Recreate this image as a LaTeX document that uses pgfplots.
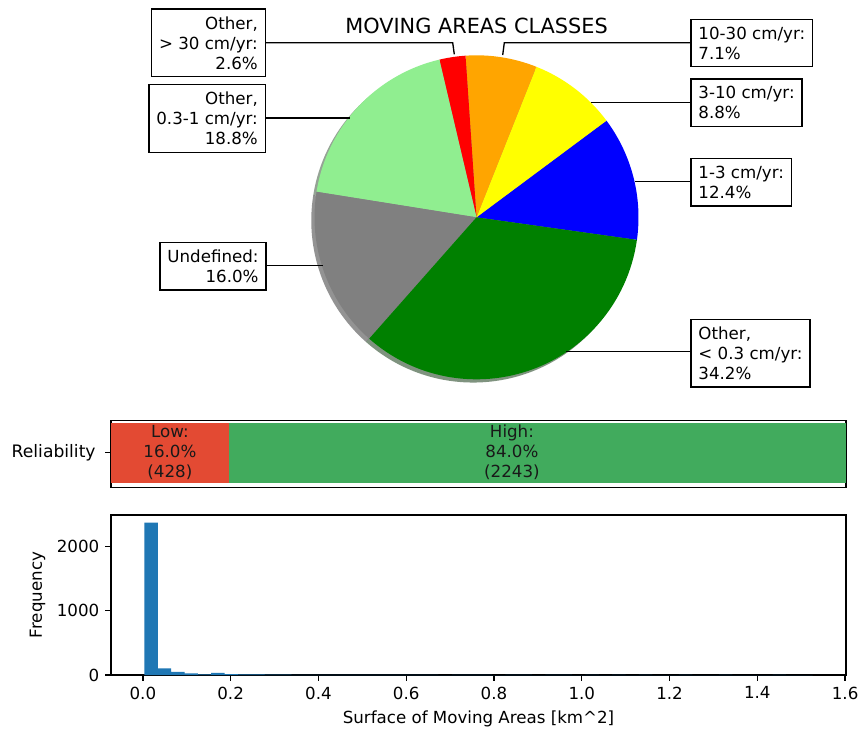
\documentclass[border=0pt]{standalone}
\usepackage{fontspec}
\setmainfont{DejaVu Sans}
\usepackage{pgfplots}
\usepackage{pgfplotstable}
\pgfplotsset{compat=1.18}
\definecolor{mpblue}{HTML}{1F77B4}
\definecolor{lowred}{HTML}{E34A33}
\definecolor{highgreen}{HTML}{41AB5D}
\definecolor{cOrange}{HTML}{FFA500}
\definecolor{cGreen}{HTML}{008000}
\definecolor{cLightgreen}{HTML}{90EE90}
\definecolor{cGray}{HTML}{808080}
\definecolor{cBlue}{HTML}{0000FF}
\definecolor{cYellow}{HTML}{FFFF00}
\definecolor{cRed}{HTML}{FF0000}

% pie shares (%), counterclockwise from start angle
\def\pBlue{12.4}\def\pYellow{8.8}\def\pOrange{7.1}\def\pRed{2.6}
\def\pLight{18.8}\def\pGray{16.0}\def\pGreen{34.2}
\def\startang{-8}
\pgfmathsetmacro\aA{\startang}
\pgfmathsetmacro\aB{\aA+3.6*\pBlue}
\pgfmathsetmacro\aC{\aB+3.6*\pYellow}
\pgfmathsetmacro\aD{\aC+3.6*\pOrange}
\pgfmathsetmacro\aE{\aD+3.6*\pRed}
\pgfmathsetmacro\aF{\aE+3.6*\pLight}
\pgfmathsetmacro\aG{\aF+3.6*\pGray}
\pgfmathsetmacro\aH{\aA+360}

% histogram: bin left edges and counts
\pgfplotstableread{
x y
0.0035 2370
0.0340 104
0.0644 48
0.0949 26
0.1253 10
0.1558 32
0.1862 15
0.2167 11
0.2471 8
0.2776 7
0.3080 5
0.3385 4
0.3689 4
0.3994 3
0.4298 2
0.4603 2
0.4907 2
0.5212 1
0.5516 2
0.5821 1
0.6125 1
0.6430 1
0.6734 0
0.7039 1
0.7343 1
0.7648 1
0.7952 0
0.8257 1
0.8561 1
0.8866 0
0.9170 1
0.9475 1
0.9779 0
1.0084 1
1.0388 0
1.0693 1
1.0997 0
1.1302 1
1.1606 0
1.1911 0
1.2215 1
1.2520 0
1.2824 0
1.3129 1
1.3433 0
1.3738 0
1.4042 0
1.4347 1
1.4651 0
1.4956 0
1.5260 1
1.5260 0
}\histdata

\newcommand\shadowslice[3]{%
  \fill[#1,opacity=0.5] (axis cs:-0.02,-0.02) -- (axis cs:{-0.02+cos(#2)},{-0.02+sin(#2)}) arc[start angle=#2, end angle=#3, radius=97.2pt] -- cycle;}
\newcommand\pieslice[3]{%
  \fill[#1] (axis cs:0,0) -- (axis cs:{cos(#2)},{sin(#2)}) arc[start angle=#2, end angle=#3, radius=97.2pt] -- cycle;}

\pgfplotsset{
  /pgf/number format/assume math mode=true,
  every axis/.append style={
    axis line style={line width=0.8pt},
    every tick/.style={black,line width=0.8pt},
    major tick length=3.5pt,
    tick align=outside,
    tick pos=left,
    tick label style={font=\fontsize{10}{12}\selectfont},
    label style={font=\fontsize{10}{12}\selectfont},
  },
}

\begin{document}
\begin{tikzpicture}[font=\fontsize{10}{12}\selectfont]
\useasboundingbox (0pt,0pt) rectangle (514.8pt,-439.8pt);

% ---------- pie ----------
\begin{axis}[at={(285.9pt,-130.38pt)}, anchor=center,
  x=97.2pt, y=97.2pt, xmin=-1.1, xmax=1.1, ymin=-1.1, ymax=1.1,
  hide axis, clip=false]
\shadowslice{black!70!cBlue}{\aA}{\aB}
\shadowslice{black!70!cYellow}{\aB}{\aC}
\shadowslice{black!70!cOrange}{\aC}{\aD}
\shadowslice{black!70!cRed}{\aD}{\aE}
\shadowslice{black!70!cLightgreen}{\aE}{\aF}
\shadowslice{black!70!cGray}{\aF}{\aG}
\shadowslice{black!70!cGreen}{\aG}{\aH}
\pieslice{cBlue}{\aA}{\aB}
\pieslice{cYellow}{\aB}{\aC}
\pieslice{cOrange}{\aC}{\aD}
\pieslice{cRed}{\aD}{\aE}
\pieslice{cLightgreen}{\aE}{\aF}
\pieslice{cGray}{\aF}{\aG}
\pieslice{cGreen}{\aG}{\aH}
\end{axis}

% ---------- annotations ----------
\begin{scope}[x=0.6pt,y=-0.6pt]
\node[anchor=base, font=\fontsize{12.5}{14}\selectfont] at (476.5,33.3) {MOVING AREAS CLASSES};
\tikzset{lbl/.style={draw=black, line width=0.8pt, fill=white, inner xsep=4.5pt, inner ysep=4.5pt}}
\draw[line width=0.8pt] (266,42.7) -- (452.7,42.7) -- (454.3,54.3);
\draw[line width=0.8pt] (690,42.7) -- (504.3,42.7) -- (502.7,55);
\draw[line width=0.8pt] (266,118) -- (349.5,118);
\draw[line width=0.8pt] (266.7,265.7) -- (323,265.7);
\draw[line width=0.8pt] (690,102.3) -- (590.5,102.3);
\draw[line width=0.8pt] (690,181.7) -- (634.5,181.7);
\draw[line width=0.8pt] (690,351.7) -- (566,351.7);
\node[lbl, align=right, anchor=east] at (266,42.8) {Other,\\> 30 cm/yr:\\2.6\%};
\node[lbl, align=right, anchor=east] at (266,118.7) {Other,\\0.3-1 cm/yr:\\18.8\%};
\node[lbl, align=right, anchor=east] at (266.7,266.2) {Undefined:\\16.0\%};
\node[lbl, align=left, anchor=west] at (690.3,43) {10-30 cm/yr:\\7.1\%};
\node[lbl, align=left, anchor=west] at (690.3,102.7) {3-10 cm/yr:\\8.8\%};
\node[lbl, align=left, anchor=west] at (690.3,182.2) {1-3 cm/yr:\\12.4\%};
\node[lbl, align=left, anchor=west] at (690.3,353.2) {Other,\\< 0.3 cm/yr:\\34.2\%};
\end{scope}

% ---------- reliability bar ----------
\begin{axis}[at={(66.6pt,-292.38pt)}, anchor=south west,
  scale only axis, width=441pt, height=39.96pt,
  xbar stacked, bar width=0.8, bar shift=0pt,
  xmin=0, xmax=2671, ymin=-0.461, ymax=0.427,
  xtick=\empty, ytick={0}, yticklabels={Reliability},
  yticklabel style={xshift=-2.2pt, font=\fontsize{10.3}{12}\selectfont},
  clip=false]
\addplot[fill=lowred, draw=none] coordinates {(428,0)};
\addplot[fill=highgreen, draw=none] coordinates {(2243,0)};
\coordinate (lowc) at (axis cs:214,0);
\coordinate (highc) at (axis cs:1457,0);
\end{axis}
\node[align=center, text=black!90] at (lowc) {Low:\\16.0\%\\(428)};
\node[align=center, text=black!90] at (highc) {High:\\84.0\%\\(2243)};

% ---------- histogram ----------
\begin{axis}[at={(66.6pt,-405pt)}, anchor=south west,
  scale only axis, width=441pt, height=96pt,
  xmin=-0.0726, xmax=1.602, ymin=0, ymax=2488,
  xtick={0,0.2,0.4,0.6,0.8,1.0,1.2,1.4,1.6},
  xticklabel={\pgfmathprintnumber[fixed,fixed zerofill,precision=1]{\tick}},
  ytick={0,1000,2000},
  scaled y ticks=false,
  yticklabel style={/pgf/number format/1000 sep={}},
  xlabel={Surface of Moving Areas [km\textasciicircum 2]},
  ylabel={Frequency}]
\addplot[ybar interval, fill=mpblue, draw=none] table[x=x,y=y] {\histdata};
\end{axis}
\end{tikzpicture}
\end{document}
